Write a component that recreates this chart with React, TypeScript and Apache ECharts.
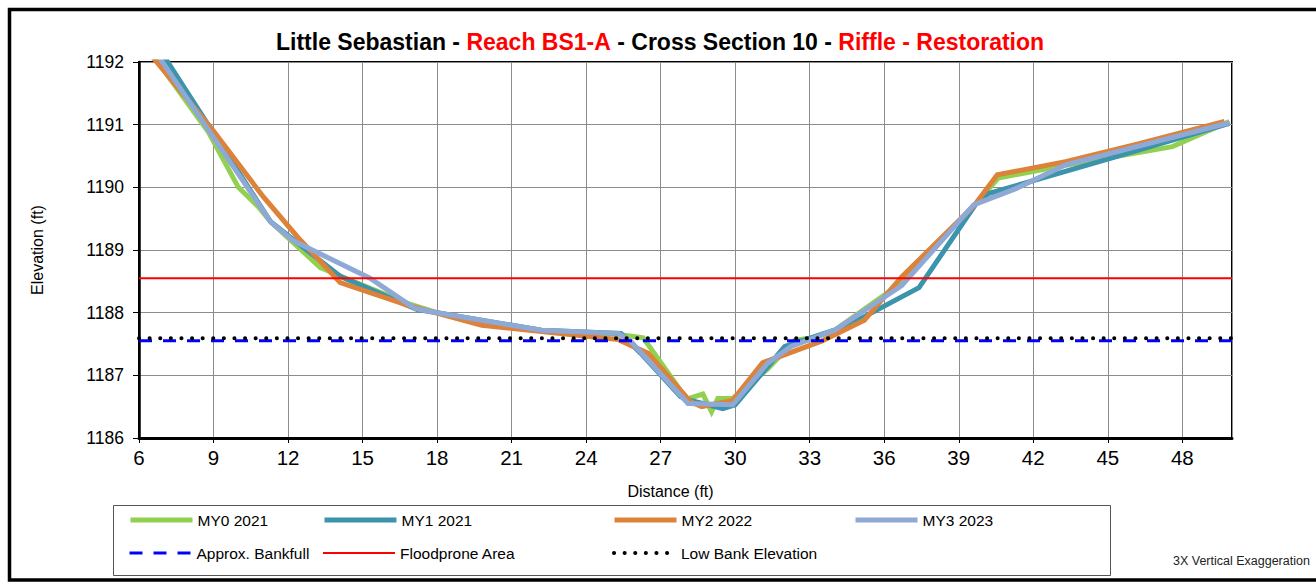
import React, { useEffect, useRef } from "react";
import * as echarts from "echarts";

const FONT = "'Liberation Sans', Arial, sans-serif";

const titleParts = ["Little Sebastian - ", "Reach BS1-A", " - Cross Section 10 - ", "Riffle - Restoration"];

const seriesNames = ["MY0 2021", "MY1 2021", "MY2 2022", "MY3 2023", "Approx. Bankfull", "Floodprone Area", "Low Bank Elevation"];

// [distance ft, elevation ft]
const my0_2021: number[][] = [
  [6.4, 1192.2], [8.8, 1190.88], [10.0, 1190.0], [10.8, 1189.69], [11.3, 1189.45], [13.3, 1188.72],
  [14.2, 1188.57], [16.8, 1188.15], [18.0, 1188.0], [19.8, 1187.85], [22.2, 1187.72], [25.3, 1187.65],
  [26.3, 1187.6], [28.05, 1186.62], [28.7, 1186.7], [29.05, 1186.42], [29.3, 1186.63], [29.9, 1186.63],
  [31.3, 1187.1], [32.4, 1187.56], [33.1, 1187.6], [34.0, 1187.72], [36.6, 1188.45], [39.6, 1189.7],
  [40.6, 1190.15], [43.3, 1190.35], [47.6, 1190.65], [49.9, 1191.05],
];
const my1_2021: number[][] = [
  [6.8, 1192.22], [11.3, 1189.45], [14.1, 1188.58], [17.2, 1188.05], [18.0, 1188.0], [22.2, 1187.72],
  [25.4, 1187.67], [26.2, 1187.35], [27.8, 1186.66], [28.2, 1186.6], [29.5, 1186.47], [30.0, 1186.53],
  [32.0, 1187.46], [34.0, 1187.72], [34.7, 1187.83], [37.4, 1188.4], [39.7, 1189.74], [40.2, 1189.9],
  [45.0, 1190.45], [49.9, 1191.02],
];
const my2_2022: number[][] = [
  [6.4, 1192.15], [9.0, 1190.9], [11.0, 1189.85], [12.4, 1189.2], [14.1, 1188.48], [16.8, 1188.12],
  [19.8, 1187.8], [22.2, 1187.7], [25.3, 1187.57], [26.5, 1187.35], [28.2, 1186.58], [28.65, 1186.5],
  [29.9, 1186.6], [31.1, 1187.2], [33.5, 1187.55], [35.2, 1187.88], [36.7, 1188.57], [39.6, 1189.7],
  [40.55, 1190.2], [43.3, 1190.41], [46.1, 1190.68], [49.7, 1191.05],
];
const my3_2023: number[][] = [
  [6.6, 1192.2], [11.3, 1189.45], [12.2, 1189.15], [15.3, 1188.55], [17.1, 1188.07], [18.0, 1188.0],
  [22.2, 1187.72], [25.3, 1187.67], [25.8, 1187.54], [28.1, 1186.55], [29.9, 1186.53], [31.3, 1187.19],
  [32.25, 1187.46], [34.0, 1187.72], [36.7, 1188.43], [39.6, 1189.72], [41.3, 1189.98], [43.3, 1190.36],
  [49.9, 1191.03],
];
const bankfull: number[][] = [[6, 1187.55], [50, 1187.55]];
const floodprone: number[][] = [[6, 1188.55], [50, 1188.55]];
const lowBank: number[][] = [[6, 1187.59], [50, 1187.59]];

const colors = ["#92D050", "#3C94AC", "#DD8239", "#8EA9D6", "#0000FF", "#FF0000", "#000000"];
const widths = [5, 5, 5, 5, 3, 2, 4];

const legendPos: number[][] = [
  [128, 512], [322, 512], [612, 512], [853, 512],
  [128, 545], [322, 545], [612, 545],
];

export default function App() {
  const ref = useRef<HTMLDivElement>(null);
  useEffect(() => {
    if (!ref.current) return;
    const chart = echarts.init(ref.current, undefined, { renderer: "svg" });
    const curveData = [my0_2021, my1_2021, my2_2022, my3_2023];
    const curves = curveData.map((d, i) => ({
      name: seriesNames[i],
      type: "line",
      data: d,
      symbol: "none",
      showSymbol: false,
      clip: true,
      z: 3 + i,
      lineStyle: { color: colors[i], width: widths[i], cap: "butt", join: "miter" },
      itemStyle: { color: colors[i] },
    }));
    const refs = [
      { name: seriesNames[4], data: bankfull, color: colors[4], width: widths[4], type: [13, 11], cap: "butt", z: 10 },
      { name: seriesNames[5], data: floodprone, color: colors[5], width: widths[5], type: "solid", cap: "butt", z: 11 },
      { name: seriesNames[6], data: lowBank, color: colors[6], width: widths[6], type: [0.1, 10.5], cap: "round", z: 12 },
    ].map((r) => ({
      name: r.name,
      type: "line",
      data: r.data,
      symbol: "none",
      showSymbol: false,
      z: r.z,
      lineStyle: { color: r.color, width: r.width, type: r.type, cap: r.cap },
      itemStyle: { color: r.color },
    }));

    const legends = seriesNames.map((n, i) => ({
      data: [n],
      left: legendPos[i][0],
      top: legendPos[i][1],
      itemWidth: i === 1 || i === 5 ? 72 : 62,
      itemHeight: 16,
      padding: 0,
      selectedMode: false,
      itemStyle: { opacity: 0, borderWidth: 0 },
      lineStyle: { width: widths[i] },
      textStyle: { fontFamily: FONT, fontSize: 15.5, color: "#000" },
    }));

    chart.setOption({
      animation: false,
      backgroundColor: "#fff",
      title: {
        text: `{b|${titleParts[0]}}{r|${titleParts[1]}}{b|${titleParts[2]}}{r|${titleParts[3]}}`,
        left: 276,
        top: 30,
        padding: 0,
        textStyle: {
          rich: {
            b: { fontFamily: FONT, fontSize: 23, fontWeight: "bold", color: "#000" },
            r: { fontFamily: FONT, fontSize: 23, fontWeight: "bold", color: "#FF0000" },
          },
        },
      },
      legend: legends,
      grid: {
        left: 139,
        right: 84,
        top: 62,
        bottom: 144,
        show: true,
        borderColor: "#000",
        borderWidth: 2,
        containLabel: false,
        outerBoundsMode: "none",
      },
      xAxis: {
        type: "value",
        min: 6,
        max: 50,
        interval: 3,
        name: "Distance (ft)",
        nameLocation: "middle",
        nameGap: 45,
        nameMoveOverlap: false,
        nameTextStyle: { fontFamily: FONT, fontSize: 16, color: "#000", padding: [0, 30, 0, 0] },
        axisLine: { show: true, onZero: false, lineStyle: { color: "#000", width: 3 } },
        axisTick: { show: true, inside: false, length: 5, lineStyle: { color: "#000", width: 1 } },
        axisLabel: { showMaxLabel: false, fontFamily: FONT, fontSize: 20.5, color: "#000", margin: 9 },
        splitLine: { show: true, lineStyle: { color: "#8c8c8c", width: 1 } },
      },
      yAxis: {
        type: "value",
        min: 1186,
        max: 1192,
        interval: 1,
        name: "Elevation (ft)",
        nameLocation: "middle",
        nameGap: 94,
        nameRotate: 90,
        nameMoveOverlap: false,
        nameTextStyle: { fontFamily: FONT, fontSize: 16, color: "#000" },
        axisLine: { show: true, onZero: false, lineStyle: { color: "#000", width: 2.5 } },
        axisTick: { show: true, inside: false, length: 6, lineStyle: { color: "#000", width: 1 } },
        axisLabel: {
          fontFamily: FONT,
          fontSize: 17.5,
          color: "#000",
          margin: 15,
          formatter: (v: number) => String(v),
        },
        splitLine: { show: true, lineStyle: { color: "#8c8c8c", width: 1 } },
      },
      graphic: [
        {
          type: "rect",
          shape: { x: 9.5, y: 9.5, width: 1400, height: 570.5 },
          style: { fill: "none", stroke: "#000", lineWidth: 3.5 },
          silent: true,
          z: 0,
        },
        {
          type: "rect",
          shape: { x: 113.5, y: 505.5, width: 997, height: 70 },
          style: { fill: "none", stroke: "#555", lineWidth: 1 },
          silent: true,
          z: 0,
        },
        {
          type: "text",
          x: 1173,
          y: 561,
          style: {
            text: "3X Vertical Exaggeration",
            fontFamily: FONT,
            fontSize: 12.5,
            fill: "#222",
            verticalAlign: "middle",
          },
          silent: true,
        },
      ],
      series: [...curves, ...refs],
    });
    return () => chart.dispose();
  }, []);
  return (
    <div
      ref={ref}
      style={{ position: "fixed", left: 0, top: 0, width: 1316, height: 582, background: "#fff" }}
    />
  );
}
